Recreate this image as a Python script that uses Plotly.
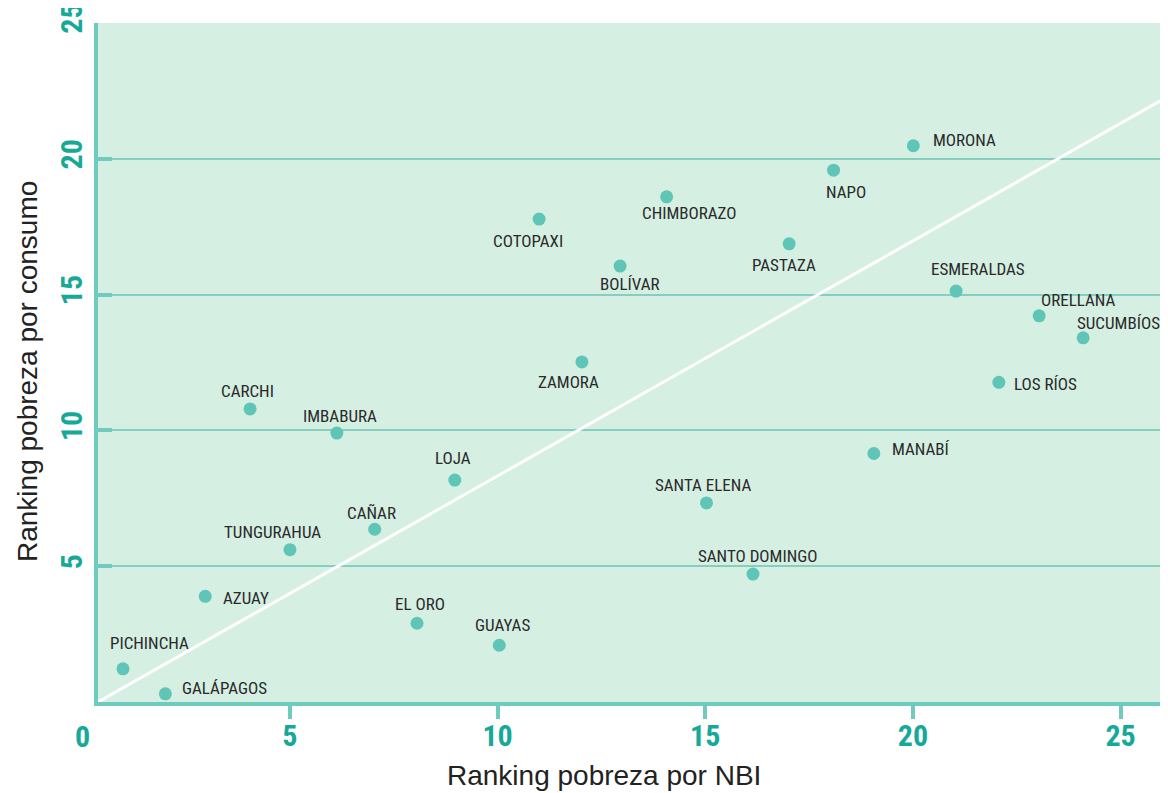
import plotly.graph_objects as go

# ---- data ----
provinces = ["PICHINCHA", "GALÁPAGOS", "AZUAY", "TUNGURAHUA", "CARCHI", "IMBABURA",
             "CAÑAR", "LOJA", "EL ORO", "GUAYAS", "COTOPAXI", "BOLÍVAR", "ZAMORA",
             "CHIMBORAZO", "SANTA ELENA", "SANTO DOMINGO", "PASTAZA", "NAPO", "MORONA",
             "MANABÍ", "ESMERALDAS", "LOS RÍOS", "ORELLANA", "SUCUMBÍOS"]
nbi_rank = [0.98, 2.0, 2.96, 5.0, 4.04, 6.13, 7.04, 8.97, 8.06, 10.04, 11.0, 12.95, 12.03,
            14.07, 15.03, 16.15, 17.02, 18.09, 20.01, 19.06, 21.04, 22.07, 23.04, 24.1]
consumo_rank = [1.22, 0.30, 3.89, 5.61, 10.79, 9.90, 6.36, 8.17, 2.90, 2.09, 17.78, 16.05, 12.52,
                18.6, 7.33, 4.71, 16.87, 19.58, 20.48, 9.15, 15.13, 11.77, 14.22, 13.41]

trend_x = [0.378, 26.14]
trend_y = [0.0, 22.29]

x_ticks = [5, 10, 15, 20, 25]
y_ticks = [5, 10, 15, 20, 25]
x_range = [0.378, 25.95]
y_range = [0, 25]
x_title = "Ranking pobreza por NBI"
y_title = "Ranking pobreza por consumo"

# label placement (screen px offsets from the dot; dy positive = downward)
label_pos = {
    "PICHINCHA": ("left", -15, -26),
    "GALÁPAGOS": ("left", 14.5, -6),
    "AZUAY": ("left", 16, 1.5),
    "TUNGURAHUA": ("left", -68, -18),
    "CARCHI": ("center", -2.5, -18),
    "IMBABURA": ("center", 3, -17),
    "CAÑAR": ("center", -3, -16),
    "LOJA": ("center", -2, -22),
    "EL ORO": ("center", 2.5, -19),
    "GUAYAS": ("center", 3, -20),
    "COTOPAXI": ("center", -11, 21.5),
    "BOLÍVAR": ("center", 10, 18),
    "ZAMORA": ("center", -13, 20),
    "CHIMBORAZO": ("center", 23, 16),
    "SANTA ELENA": ("center", -3, -18),
    "SANTO DOMINGO": ("center", 4, -18),
    "PASTAZA": ("center", -5, 21),
    "NAPO": ("center", 12, 22),
    "MORONA": ("left", 18, -6),
    "MANABÍ": ("left", 16, -4),
    "ESMERALDAS": ("center", 22, -22),
    "LOS RÍOS": ("left", 13, 2),
    "ORELLANA": ("left", 0, -16),
    "SUCUMBÍOS": ("left", -8, -15),
}

TEAL = "#6fcbbe"
TICK_TEXT = "#17a998"
NARROW = "Liberation Sans Narrow, Roboto Condensed, DejaVu Sans Condensed, sans-serif"
REG = "Liberation Sans, Arial, sans-serif"

fig = go.Figure()
fig.add_trace(go.Scatter(x=trend_x, y=trend_y, mode="lines",
                         line=dict(color="white", width=3), hoverinfo="skip",
                         showlegend=False))
fig.add_trace(go.Scatter(x=nbi_rank, y=consumo_rank, mode="markers",
                         marker=dict(size=13, color="#5fc5b6", line=dict(width=0)),
                         text=provinces, showlegend=False, cliponaxis=False))

annotations = []
for name, xv, yv in zip(provinces, nbi_rank, consumo_rank):
    anchor, dx, dy = label_pos[name]
    annotations.append(dict(x=xv, y=yv, xref="x", yref="y", text=name, showarrow=False,
                            xanchor=anchor, yanchor="middle", xshift=dx, yshift=-dy,
                            font=dict(family=NARROW, size=17, color="#2a2a2a")))

# "0" tick label sits at x = 0, just left of the visible range
zero_paper = (0 - x_range[0]) / (x_range[1] - x_range[0])
annotations.append(dict(x=zero_paper, y=0, xref="paper", yref="paper", text="0",
                        showarrow=False, xanchor="center", yanchor="middle", yshift=-34,
                        font=dict(family=NARROW, size=30, color=TICK_TEXT, weight="bold")))
# axis titles
annotations.append(dict(x=0.476, y=0, xref="paper", yref="paper", text=x_title,
                        showarrow=False, xanchor="center", yanchor="middle", yshift=-73,
                        font=dict(family=REG, size=28, color="#222222")))
annotations.append(dict(x=0, y=0.486, xref="paper", yref="paper", text=y_title,
                        showarrow=False, xanchor="center", yanchor="middle", xshift=-71,
                        textangle=-90,
                        font=dict(family=REG, size=28, color="#222222")))

fig.update_layout(
    width=1152, height=785,
    margin=dict(l=90, r=0, t=15, b=91, pad=0),
    plot_bgcolor="#d5efe3", paper_bgcolor="white",
    annotations=annotations,
    xaxis=dict(range=x_range, tickvals=x_ticks, ticks="outside", ticklen=13, tickwidth=4,
               tickcolor=TEAL, showline=True, linewidth=4, linecolor=TEAL,
               showgrid=False, zeroline=False, automargin=False, ticklabelstandoff=-9,
               ticklabeloverflow="allow",
               tickfont=dict(family=NARROW, size=30, color=TICK_TEXT, weight="bold")),
    yaxis=dict(range=y_range, tickvals=y_ticks, ticks="inside", ticklen=14, tickwidth=4,
               tickcolor=TEAL, showline=True, linewidth=4, linecolor=TEAL,
               showgrid=True, gridcolor="#86cfbf", gridwidth=1.5, zeroline=False,
               tickangle=-90, automargin=False, ticklabeloverflow="allow",
               tickfont=dict(family=NARROW, size=30, color=TICK_TEXT, weight="bold")),
)

fig.write_html("out.html")
